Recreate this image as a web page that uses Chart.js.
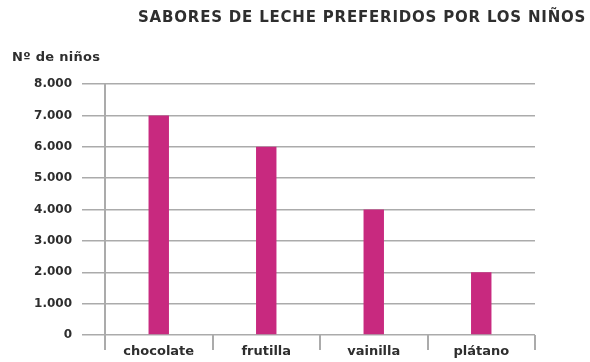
<!DOCTYPE html>
<html>
<head>
<meta charset="utf-8">
<script src="https://cdn.jsdelivr.net/npm/chart.js@4"></script>
<style>
  html, body { margin: 0; padding: 0; background: #fff; }
  #wrap { width: 590px; height: 362px; }
</style>
</head>
<body>
<div id="wrap"><canvas id="lecheChart" width="590" height="362"></canvas></div>
<script>
// Sabores de leche preferidos
const sabores = ['chocolate', 'frutilla', 'vainilla', 'plátano'];
const ninos = [7000, 6000, 4000, 2000];
const yTicks = [0, 1000, 2000, 3000, 4000, 5000, 6000, 7000, 8000];

const tituloTexto = 'SABORES DE LECHE PREFERIDOS POR LOS NIÑOS';
const ejeTexto = 'Nº de niños';

const FONT = '"DejaVu Sans", sans-serif';
const TEXT_COLOR = '#2e2e2e';
const GRID_COLOR = '#ababab';

function conPuntos(v) {
  return String(v).replace(/\B(?=(\d{3})+(?!\d))/g, '.');
}

// title and axis caption sit outside the chart area
const textosPlugin = {
  id: 'textos',
  afterDraw(chart) {
    const c = chart.ctx;
    c.save();
    c.fillStyle = TEXT_COLOR;
    c.textBaseline = 'middle';
    c.textAlign = 'left';
    c.font = 'bold 15px ' + FONT;
    if ('letterSpacing' in c) c.letterSpacing = '0.8px';
    c.fillText(tituloTexto, 138, 18);
    if ('letterSpacing' in c) c.letterSpacing = '0.3px';
    c.font = 'bold 13px ' + FONT;
    c.fillText(ejeTexto, 12, 58);
    c.restore();
  }
};

new Chart(document.getElementById('lecheChart'), {
  type: 'bar',
  data: {
    labels: sabores,
    datasets: [{
      data: ninos,
      backgroundColor: '#c8297f',
      borderWidth: 0,
      categoryPercentage: 1,
      barPercentage: 0.19
    }]
  },
  options: {
    responsive: false,
    animation: false,
    layout: { padding: { top: 84, right: 55, left: 0, bottom: 0 } },
    plugins: {
      legend: { display: false },
      tooltip: { enabled: false },
      title: { display: false }
    },
    scales: {
      x: {
        offset: true,
        grid: {
          offset: true,
          drawOnChartArea: false,
          drawTicks: true,
          tickLength: 15,
          color: GRID_COLOR,
          lineWidth: 2
        },
        border: { display: false },
        ticks: {
          color: TEXT_COLOR,
          font: { family: FONT, size: 13, weight: 'bold' },
          padding: -6,
          maxRotation: 0
        },
        afterFit(axis) { axis.height = 27; }
      },
      y: {
        min: 0,
        max: 8000,
        afterBuildTicks(axis) { axis.ticks = yTicks.map(v => ({ value: v })); },
        grid: {
          color: GRID_COLOR,
          lineWidth: 1.5,
          drawTicks: true,
          tickLength: 23
        },
        border: { display: true, color: GRID_COLOR, width: 2 },
        ticks: {
          color: TEXT_COLOR,
          font: { family: FONT, size: 12, weight: 'bold' },
          padding: 10,
          callback: v => conPuntos(v)
        },
        afterFit(axis) { axis.width = 105; }
      }
    }
  },
  plugins: [textosPlugin]
});
</script>
</body>
</html>
